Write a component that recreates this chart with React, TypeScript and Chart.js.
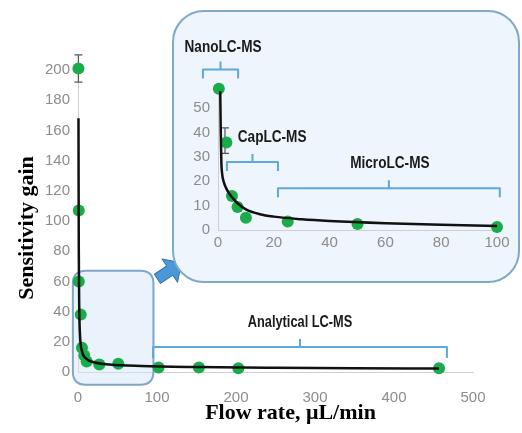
import React, { useEffect, useRef } from "react";
import { Chart, registerables } from "chart.js";

Chart.register(...registerables);

// ---------------- main chart data ----------------
const mainFlowRates = [0.5, 1, 1, 3.5, 5, 8, 11, 27, 51, 102, 153, 203, 457];
const mainGains = [201, 107, 60, 38, 16, 11, 7, 5, 5.5, 3, 3, 2.5, 2.5];
const mainFitFlow = [0.6, 0.8, 1, 1.5, 2.5, 5, 10, 20, 40, 80, 150, 250, 350, 457];
const mainFitGain = [168, 120, 80, 45, 25, 14, 9, 6.5, 5, 4, 3.3, 2.8, 2.5, 2.3];
const mainErrorFlow = [0.5];
const mainErrorLow = [192];
const mainErrorHigh = [210];
const mainXTicks = [0, 100, 200, 300, 400, 500];
const mainYTicks = [0, 20, 40, 60, 80, 100, 120, 140, 160, 180, 200];
const zoomRegionFlow = [-6.5, 95.5];
const zoomRegionGain = [-8.5, 67];

const mainBracketLabels = ["Analytical LC-MS"];
const mainBracketFrom = [95];
const mainBracketTo = [467];
const mainBracketLevel = [16.5];
const mainBracketLabelLevel = [33];

// ---------------- inset chart data ----------------
const insetFlowRates = [0.3, 3, 5, 7, 10, 25, 50, 100];
const insetGains = [58, 36, 14, 9.5, 5, 3.5, 2.5, 1.2];
const insetFitFlow = [0.8, 1.0, 1.2, 1.5, 2, 3, 4, 5, 7, 10, 15, 20, 30, 40, 60, 80, 100];
const insetFitGain = [57, 40, 28, 23, 20, 17, 15, 13.5, 11, 8.5, 6.5, 5.5, 4.4, 3.7, 2.8, 2.2, 1.6];
const insetErrorFlow = [2.5];
const insetErrorLow = [31.5];
const insetErrorHigh = [42];
const insetXTicks = [0, 20, 40, 60, 80, 100];
const insetYTicks = [0, 10, 20, 30, 40, 50];

const insetBracketLabels = ["NanoLC-MS", "CapLC-MS", "MicroLC-MS"];
const insetBracketFrom = [-5.4, 3.2, 21.5];
const insetBracketTo = [7.2, 21.5, 101];
const insetBracketLevel = [66, 27.9, 17.2];
const insetLabelX = [1.8, 19.4, 61.6];
const insetLabelLevel = [75, 38, 27.5];

// ---------------- styles ----------------
const GREEN = "#1aab4b";
const BRACKET = "#5fa8dc";
const TICK_FONT = "'Liberation Sans', Arial, sans-serif";
const LABEL_FONT = "'Liberation Sans', Arial, sans-serif";
const TITLE_FONT = "'Liberation Serif', 'Times New Roman', serif";

function drawBracket(ctx: CanvasRenderingContext2D, x1: number, x2: number, y: number, drop: number, rise: number) {
  const xm = (x1 + x2) / 2;
  ctx.save();
  ctx.strokeStyle = BRACKET;
  ctx.lineWidth = 2;
  ctx.lineJoin = "round";
  ctx.beginPath();
  ctx.moveTo(x1, y + drop);
  ctx.lineTo(x1, y);
  ctx.lineTo(x2, y);
  ctx.lineTo(x2, y + drop);
  ctx.moveTo(xm, y);
  ctx.lineTo(xm, y - rise);
  ctx.stroke();
  ctx.restore();
}

function drawNarrowLabel(ctx: CanvasRenderingContext2D, text: string, x: number, y: number, size: number) {
  ctx.save();
  ctx.font = `bold ${size}px ${LABEL_FONT}`;
  ctx.fillStyle = "#1a1a1a";
  ctx.textAlign = "center";
  ctx.textBaseline = "middle";
  ctx.translate(x, y);
  ctx.scale(0.8, 1);
  ctx.fillText(text, 0, 0);
  ctx.restore();
}

function drawErrorBar(ctx: CanvasRenderingContext2D, x: number, yLow: number, yHigh: number) {
  ctx.save();
  ctx.strokeStyle = "#555";
  ctx.lineWidth = 1.2;
  ctx.beginPath();
  ctx.moveTo(x, yLow);
  ctx.lineTo(x, yHigh);
  ctx.moveTo(x - 4, yLow);
  ctx.lineTo(x + 4, yLow);
  ctx.moveTo(x - 4, yHigh);
  ctx.lineTo(x + 4, yHigh);
  ctx.stroke();
  ctx.restore();
}

function roundRectPath(ctx: CanvasRenderingContext2D, l: number, t: number, r: number, b: number, rad: number) {
  ctx.beginPath();
  ctx.moveTo(l + rad, t);
  ctx.lineTo(r - rad, t);
  ctx.quadraticCurveTo(r, t, r, t + rad);
  ctx.lineTo(r, b - rad);
  ctx.quadraticCurveTo(r, b, r - rad, b);
  ctx.lineTo(l + rad, b);
  ctx.quadraticCurveTo(l, b, l, b - rad);
  ctx.lineTo(l, t + rad);
  ctx.quadraticCurveTo(l, t, l + rad, t);
  ctx.closePath();
}

const mainDecor = {
  id: "mainDecor",
  beforeDatasetsDraw(chart: any) {
    const { ctx, scales } = chart;
    const x = scales.x, y = scales.y;
    const l = x.getPixelForValue(zoomRegionFlow[0]);
    const r = x.getPixelForValue(zoomRegionFlow[1]);
    const t = y.getPixelForValue(zoomRegionGain[1]);
    const b = y.getPixelForValue(zoomRegionGain[0]);
    ctx.save();
    roundRectPath(ctx, l, t, r, b, 13);
    ctx.fillStyle = "rgba(214,230,248,0.5)";
    ctx.fill();
    ctx.strokeStyle = "#7fa7c9";
    ctx.lineWidth = 2;
    ctx.stroke();
    ctx.restore();
    for (let i = 0; i < mainErrorFlow.length; i++) {
      drawErrorBar(ctx, x.getPixelForValue(mainErrorFlow[i]), y.getPixelForValue(mainErrorLow[i]), y.getPixelForValue(mainErrorHigh[i]));
    }
  },
  afterDatasetsDraw(chart: any) {
    const { ctx, scales, chartArea } = chart;
    const x = scales.x, y = scales.y;
    for (let i = 0; i < mainBracketLabels.length; i++) {
      const x1 = x.getPixelForValue(mainBracketFrom[i]);
      const x2 = x.getPixelForValue(mainBracketTo[i]);
      drawBracket(ctx, x1, x2, y.getPixelForValue(mainBracketLevel[i]), 11, 8);
      drawNarrowLabel(ctx, mainBracketLabels[i], (x1 + x2) / 2, y.getPixelForValue(mainBracketLabelLevel[i]), 16);
    }
    // arrow from zoom box to inset
    const r = x.getPixelForValue(zoomRegionFlow[1]);
    const t = y.getPixelForValue(zoomRegionGain[1]);
    const sx = r + 4, sy = t + 8;
    const ex = r + 28, ey = t - 8;
    const ang = Math.atan2(ey - sy, ex - sx);
    const len = Math.hypot(ex - sx, ey - sy);
    ctx.save();
    ctx.translate(sx, sy);
    ctx.rotate(ang);
    const headL = 14, headW = 14, shaftW = 5.5;
    ctx.beginPath();
    ctx.moveTo(0, -shaftW);
    ctx.lineTo(len - headL, -shaftW);
    ctx.lineTo(len - headL, -headW);
    ctx.lineTo(len, 0);
    ctx.lineTo(len - headL, headW);
    ctx.lineTo(len - headL, shaftW);
    ctx.lineTo(0, shaftW);
    ctx.closePath();
    ctx.fillStyle = "#4b98d8";
    ctx.fill();
    ctx.strokeStyle = "#3274ad";
    ctx.lineWidth = 1;
    ctx.lineJoin = "round";
    ctx.stroke();
    ctx.restore();
    // axis titles
    ctx.save();
    ctx.font = `bold 22px ${TITLE_FONT}`;
    ctx.fillStyle = "#000";
    ctx.textAlign = "center";
    ctx.textBaseline = "middle";
    ctx.fillText("Flow rate, \u03bcL/min", (chartArea.left + chartArea.right) / 2 + 15, chartArea.bottom + 41);
    ctx.translate(chartArea.left - 51, (chartArea.top + chartArea.bottom) / 2 + 7);
    ctx.rotate(-Math.PI / 2);
    ctx.fillText("Sensitivity gain", 0, 0);
    ctx.restore();
  },
};

const insetDecor = {
  id: "insetDecor",
  beforeDatasetsDraw(chart: any) {
    const { ctx, scales } = chart;
    const x = scales.x, y = scales.y;
    for (let i = 0; i < insetErrorFlow.length; i++) {
      drawErrorBar(ctx, x.getPixelForValue(insetErrorFlow[i]), y.getPixelForValue(insetErrorLow[i]), y.getPixelForValue(insetErrorHigh[i]));
    }
  },
  afterDatasetsDraw(chart: any) {
    const { ctx, scales } = chart;
    const x = scales.x, y = scales.y;
    for (let i = 0; i < insetBracketLabels.length; i++) {
      drawBracket(ctx, x.getPixelForValue(insetBracketFrom[i]), x.getPixelForValue(insetBracketTo[i]), y.getPixelForValue(insetBracketLevel[i]), 9, 8);
      drawNarrowLabel(ctx, insetBracketLabels[i], x.getPixelForValue(insetLabelX[i]), y.getPixelForValue(insetLabelLevel[i]), 17);
    }
  },
};

function axis(min: number, max: number, ticks: number[], pad: number, fit: (s: any) => void) {
  return {
    type: "linear",
    min,
    max,
    grid: { display: false, drawTicks: false },
    border: { display: true, color: "#cfcfcf", width: 1 },
    ticks: {
      color: "#8c8c8c",
      font: { size: 15, family: TICK_FONT },
      padding: pad,
      autoSkip: false,
      maxRotation: 0,
    },
    afterBuildTicks: (s: any) => {
      s.ticks = ticks.map((v) => ({ value: v }));
    },
    afterFit: fit,
  };
}

function buildConfig(
  flow: number[], gain: number[], fitX: number[], fitY: number[],
  xr: [number, number], yr: [number, number], xt: number[], yt: number[],
  xPad: number, yPad: number, layout: any, xH: number, yW: number, plugin: any, fitWidth: number
): any {
  return {
    type: "scatter",
    data: {
      datasets: [
        {
          type: "line",
          data: fitX.map((v, i) => ({ x: v, y: fitY[i] })),
          borderColor: "#111",
          borderWidth: fitWidth,
          pointRadius: 0,
          fill: false,
          cubicInterpolationMode: "monotone",
          clip: false,
        },
        {
          data: flow.map((v, i) => ({ x: v, y: gain[i] })),
          backgroundColor: GREEN,
          borderColor: GREEN,
          pointRadius: 6,
          pointBorderWidth: 0,
          clip: false,
        },
      ],
    },
    options: {
      responsive: false,
      animation: false,
      events: [],
      layout: { padding: layout },
      plugins: { legend: { display: false }, tooltip: { enabled: false } },
      scales: {
        x: axis(xr[0], xr[1], xt, xPad, (s: any) => { s.height = xH; }),
        y: axis(yr[0], yr[1], yt, yPad, (s: any) => { s.width = yW; }),
      },
    },
    plugins: [plugin],
  };
}

export default function App() {
  const mainRef = useRef<HTMLCanvasElement>(null);
  const insetRef = useRef<HTMLCanvasElement>(null);

  useEffect(() => {
    const main = new Chart(
      mainRef.current as HTMLCanvasElement,
      buildConfig(
        mainFlowRates, mainGains, mainFitFlow, mainFitGain,
        [0, 500], [0, 200], mainXTicks, mainYTicks,
        17, 8, { left: 0, top: 70, right: 49, bottom: 0 }, 61, 78, mainDecor, 2.5
      )
    );
    const inset = new Chart(
      insetRef.current as HTMLCanvasElement,
      buildConfig(
        insetFlowRates, insetGains, insetFitFlow, insetFitGain,
        [0, 100], [0, 60], insetXTicks, insetYTicks,
        4, 8, { left: 178, top: 84, right: 25, bottom: 173 }, 30, 40, insetDecor, 2.5
      )
    );
    return () => {
      main.destroy();
      inset.destroy();
    };
  }, []);

  return (
    <div style={{ position: "fixed", left: 0, top: 0, width: 522, height: 433, background: "#fff", overflow: "hidden" }}>
      <canvas ref={mainRef} width={522} height={433} style={{ position: "absolute", left: 0, top: 0 }} />
      <div
        style={{
          position: "absolute",
          left: 172,
          top: 10,
          width: 348,
          height: 273,
          boxSizing: "border-box",
          border: "2px solid #80a8c8",
          borderRadius: 32,
          background: "#eef5fc",
        }}
      />
      <canvas ref={insetRef} width={522} height={433} style={{ position: "absolute", left: 0, top: 0 }} />
    </div>
  );
}
